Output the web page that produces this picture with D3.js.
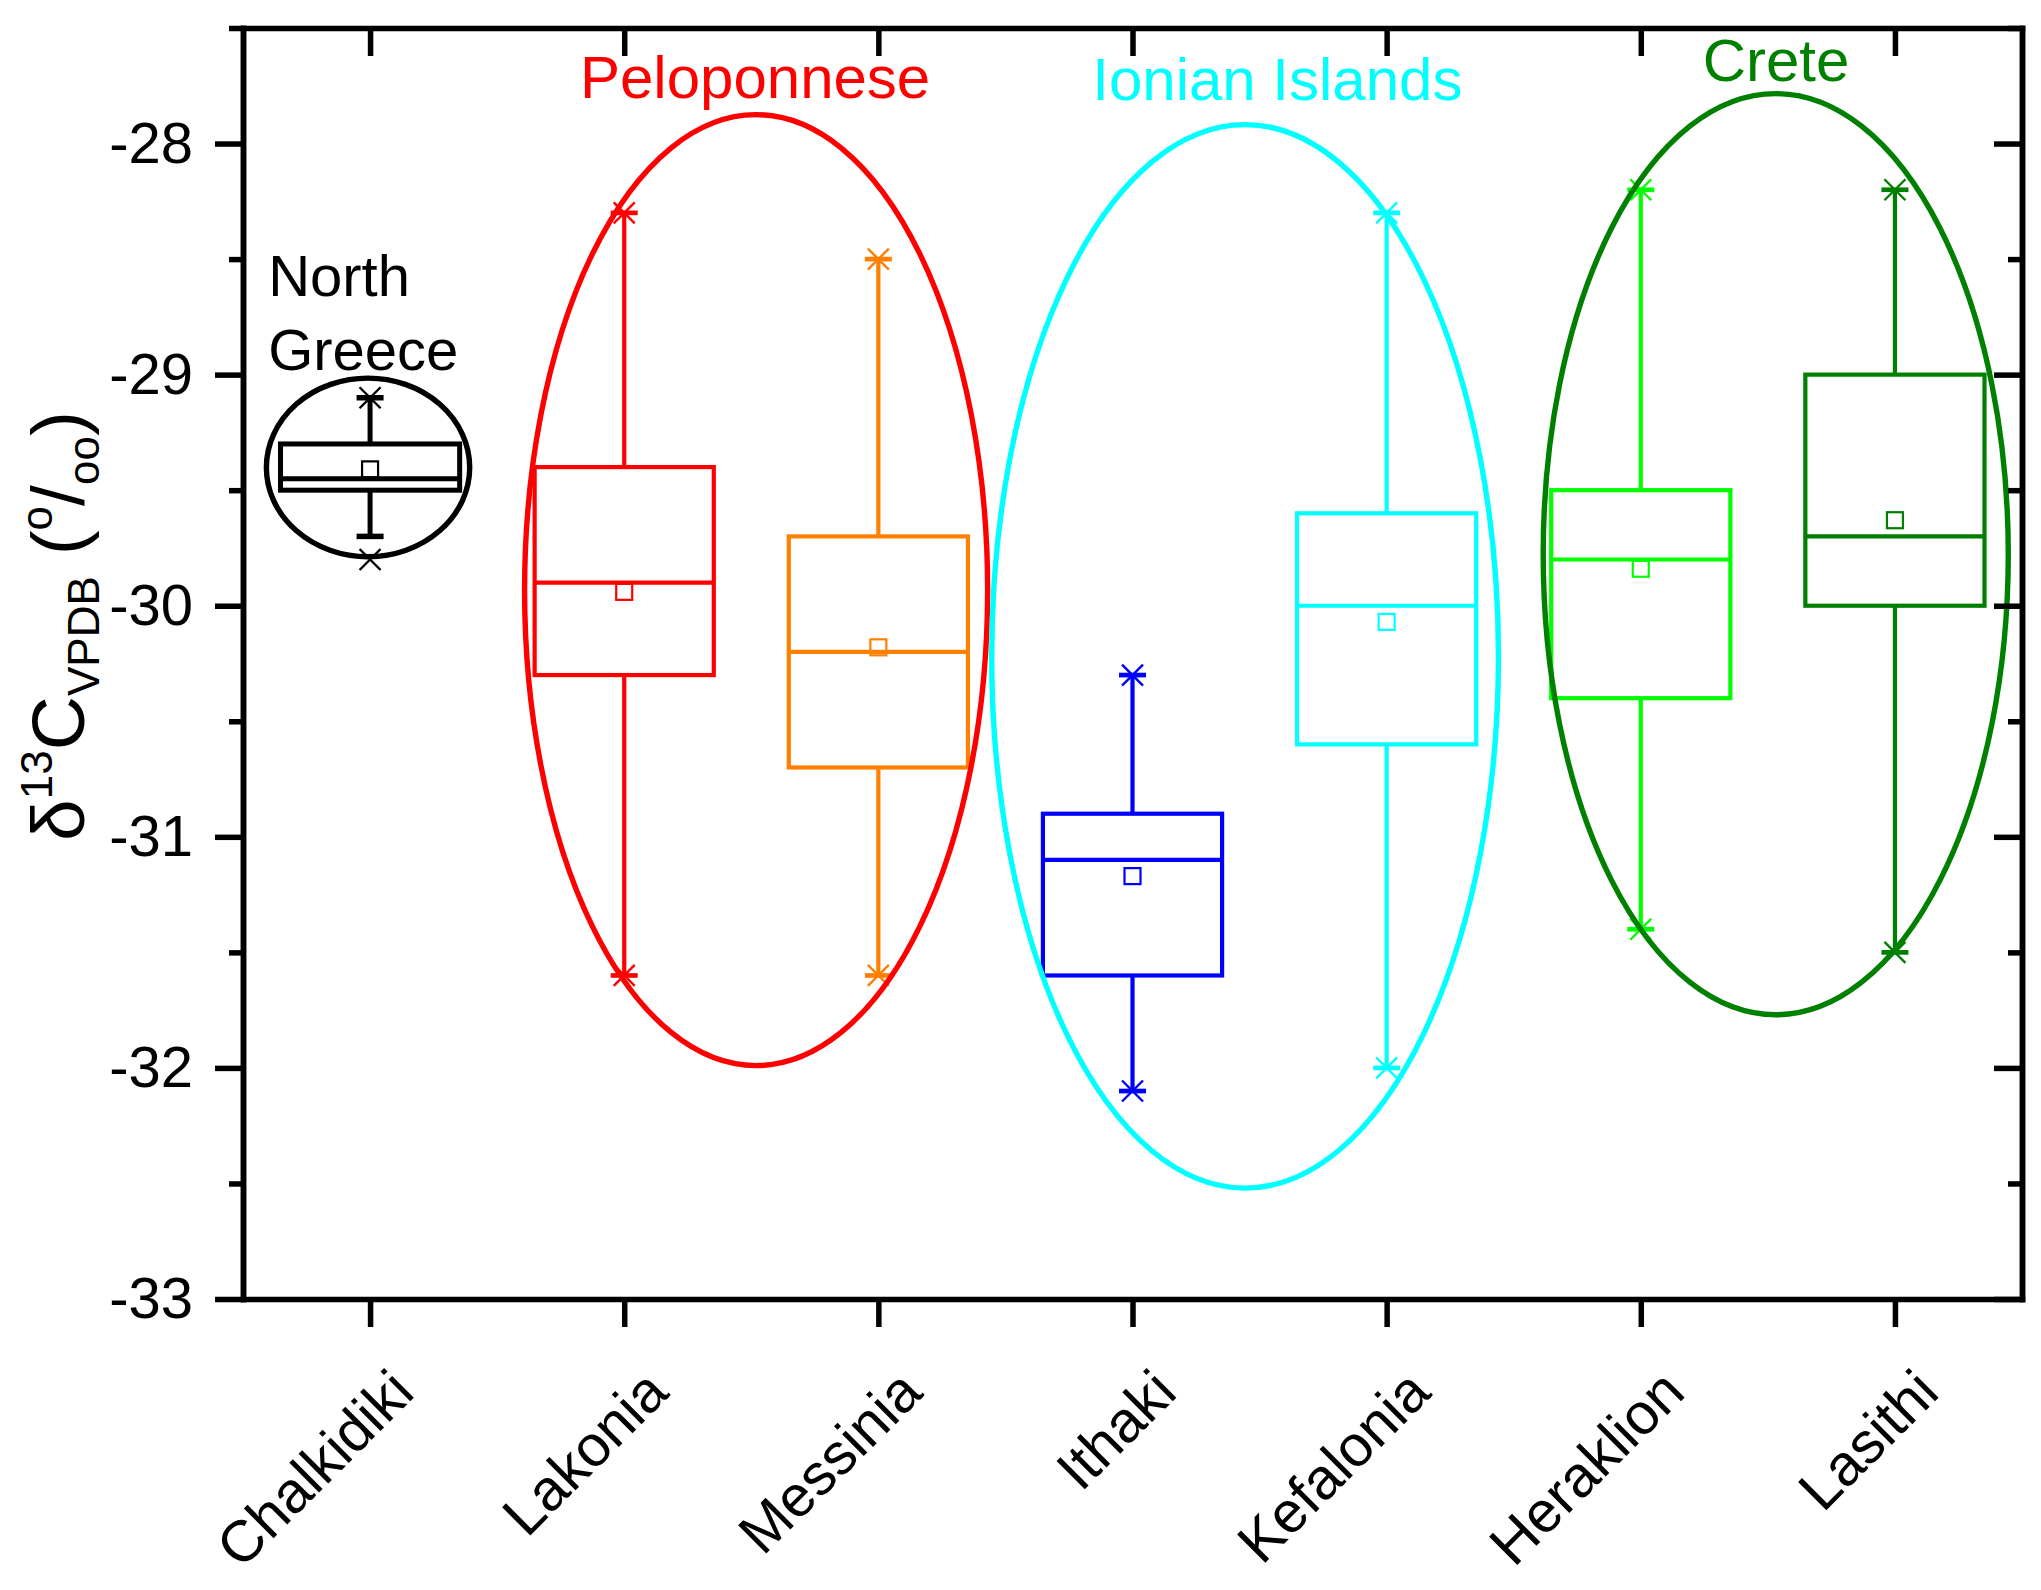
<!doctype html>
<html>
<head>
<meta charset="UTF-8">
<title>d13C boxplot</title>
<script src="https://d3js.org/d3.v7.min.js"></script>
<style>
  body { margin: 0; background: #fff; }
  text { font-family: "Liberation Sans", Arial, sans-serif; }
</style>
</head>
<body>
<script>
// categories and box statistics (per mil)
var cats = ["Chalkidiki", "Lakonia", "Messinia", "Ithaki", "Kefalonia", "Heraklion", "Lasithi"];
var q1 = [-29.5, -30.3, -30.7, -31.6, -30.6, -30.4, -30.0];
var median = [-29.45, -29.9, -30.2, -31.1, -30.0, -29.8, -29.7];
var q3 = [-29.3, -29.4, -29.7, -30.9, -29.6, -29.5, -29.0];
var mean = [-29.41, -29.94, -30.18, -31.17, -30.07, -29.84, -29.63];
var whiskerLow = [-29.7, -31.6, -31.6, -32.1, -32.0, -31.4, -31.5];
var whiskerHigh = [-29.1, -28.3, -28.5, -30.3, -28.3, -28.2, -28.2];
var minVal = [-29.8, -31.6, -31.6, -32.1, -32.0, -31.4, -31.5];
var maxVal = [-29.1, -28.3, -28.5, -30.3, -28.3, -28.2, -28.2];
var colors = ["#000000", "#FF0000", "#FF8000", "#0000FF", "#00FFFF", "#00FF00", "#008000"];

var yTicks = [-33, -32, -31, -30, -29, -28];
var yMinor = [-32.5, -31.5, -30.5, -29.5, -28.5, -27.5];

// regional groups (ellipses), centre given as category index
var groupNames = ["North Greece", "Peloponnese", "Ionian Islands", "Crete"];
var groupColors = ["#000000", "#FF0000", "#00FFFF", "#008000"];
var groupCenter = [-0.008, 1.519, 3.443, 5.531];
var groupHalfWidth = [0.40, 0.911, 0.997, 0.915];
var groupTop = [-29.015, -27.875, -27.918, -27.784];
var groupBottom = [-29.788, -31.99, -32.52, -31.77];
var labelX = [-0.401, 1.515, 3.57, 5.532];
var labelY = [-28.658, -27.805, -27.81, -27.73];

var W = 2041, H = 1590;
var L = 243, R = 2022, T = 28, B = 1299;

var svg = d3.select("body").append("svg").attr("width", W).attr("height", H);
svg.append("rect").attr("width", W).attr("height", H).attr("fill", "#fff");

var x = d3.scalePoint().domain(cats).range([L, R]).padding(0.5);
var y = d3.scaleLinear().domain([-33, -27.5]).range([B, T]);
function xi(i) { return x(cats[0]) + i * x.step(); }

// boxes
var bw = x.step() * 0.705;
var g = svg.append("g");
cats.forEach(function(c, i) {
  var cx = x(c), col = colors[i];
  var sw = i === 0 ? 5 : 4.2;
  var b = g.append("g").attr("stroke", col).attr("fill", "none");
  // whiskers
  b.append("line").attr("x1", cx).attr("x2", cx).attr("y1", y(q3[i])).attr("y2", y(whiskerHigh[i])).attr("stroke-width", sw);
  b.append("line").attr("x1", cx).attr("x2", cx).attr("y1", y(q1[i])).attr("y2", y(whiskerLow[i])).attr("stroke-width", sw);
  [whiskerLow[i], whiskerHigh[i]].forEach(function(v) {
    b.append("line").attr("x1", cx - 13.5).attr("x2", cx + 13.5).attr("y1", y(v)).attr("y2", y(v)).attr("stroke-width", sw + 0.5);
  });
  // box
  b.append("rect").attr("x", cx - bw / 2).attr("y", y(q3[i])).attr("width", bw)
    .attr("height", y(q1[i]) - y(q3[i])).attr("stroke-width", sw);
  b.append("line").attr("x1", cx - bw / 2).attr("x2", cx + bw / 2).attr("y1", y(median[i])).attr("y2", y(median[i])).attr("stroke-width", sw);
  // mean
  b.append("rect").attr("x", cx - 8).attr("y", y(mean[i]) - 8).attr("width", 16).attr("height", 16).attr("stroke-width", 2.2);
  // min / max crosses
  [minVal[i], maxVal[i]].forEach(function(v) {
    var yy = y(v), s = 10.5;
    b.append("path").attr("d", "M" + (cx - s) + "," + (yy - s) + "L" + (cx + s) + "," + (yy + s) +
      "M" + (cx - s) + "," + (yy + s) + "L" + (cx + s) + "," + (yy - s)).attr("stroke-width", 2.4);
  });
});

// ellipses
groupNames.forEach(function(n, i) {
  var cy = (y(groupTop[i]) + y(groupBottom[i])) / 2;
  svg.append("ellipse")
    .attr("cx", xi(groupCenter[i])).attr("cy", cy)
    .attr("rx", groupHalfWidth[i] * x.step()).attr("ry", (y(groupBottom[i]) - y(groupTop[i])) / 2)
    .attr("fill", "none").attr("stroke", groupColors[i]).attr("stroke-width", 5.4);
});

// group labels
groupNames.forEach(function(n, i) {
  if (i === 0) {
    var t = svg.append("text").attr("font-size", 58).attr("fill", groupColors[i]);
    t.append("tspan").attr("x", xi(labelX[i])).attr("y", y(labelY[i])).text("North");
    t.append("tspan").attr("x", xi(labelX[i])).attr("y", y(labelY[i]) + 74).text("Greece");
  } else {
    svg.append("text").attr("x", xi(labelX[i])).attr("y", y(labelY[i]))
      .attr("text-anchor", "middle").attr("font-size", 60).attr("fill", groupColors[i]).text(n);
  }
});

// axes
function styleAxis(sel) {
  sel.select(".domain").attr("stroke", "#000").attr("stroke-width", 5.5).attr("stroke-linecap", "square");
  sel.selectAll(".tick line").attr("stroke", "#000").attr("stroke-width", 5.5);
  sel.selectAll(".tick text").attr("fill", "#000");
}

var leftAxis = svg.append("g").attr("transform", "translate(" + L + ",0)")
  .call(d3.axisLeft(y).tickValues(yTicks).tickSize(28).tickSizeOuter(0).tickPadding(22).tickFormat(d3.format("d")));
leftAxis.attr("font-size", 58).attr("font-family", null);
leftAxis.selectAll(".tick text").text(function(d) { return "-" + Math.abs(d); });
styleAxis(leftAxis);
var leftMinor = svg.append("g").attr("transform", "translate(" + L + ",0)")
  .call(d3.axisLeft(y).tickValues(yMinor).tickSize(14).tickSizeOuter(0).tickFormat(""));
styleAxis(leftMinor);

var rightAxis = svg.append("g").attr("transform", "translate(" + R + ",0)")
  .call(d3.axisLeft(y).tickValues(yTicks).tickSize(28).tickSizeOuter(0).tickFormat(""));
styleAxis(rightAxis);
var rightMinor = svg.append("g").attr("transform", "translate(" + R + ",0)")
  .call(d3.axisLeft(y).tickValues(yMinor).tickSize(14).tickSizeOuter(0).tickFormat(""));
styleAxis(rightMinor);

var bottomAxis = svg.append("g").attr("transform", "translate(0," + B + ")")
  .call(d3.axisBottom(x).tickSize(28).tickSizeOuter(0));
bottomAxis.attr("font-size", 58).attr("font-family", null);
bottomAxis.selectAll(".tick text")
  .attr("x", 0).attr("y", 0).attr("dy", 0)
  .attr("text-anchor", "end")
  .attr("transform", "translate(46,96) rotate(-45)");
styleAxis(bottomAxis);

var topAxis = svg.append("g").attr("transform", "translate(0," + T + ")")
  .call(d3.axisBottom(x).tickSize(28).tickSizeOuter(0).tickFormat(""));
styleAxis(topAxis);

// y axis title
var yt = svg.append("text").attr("transform", "translate(84,626) rotate(-90)")
  .attr("text-anchor", "middle").attr("font-size", 75).attr("fill", "#000");
yt.append("tspan").text("δ");
yt.append("tspan").attr("font-size", 44).attr("dy", -32).text("13");
yt.append("tspan").attr("dy", 32).text("C");
yt.append("tspan").attr("font-size", 44).attr("dy", 15).text("VPDB");
yt.append("tspan").attr("dy", -15).text(" (");
yt.append("tspan").attr("font-size", 44).attr("dy", -32).text("o");
yt.append("tspan").attr("dy", 32).text("/");
yt.append("tspan").attr("font-size", 44).attr("dy", 15).text("oo");
yt.append("tspan").attr("dy", -15).text(")");
</script>
</body>
</html>
